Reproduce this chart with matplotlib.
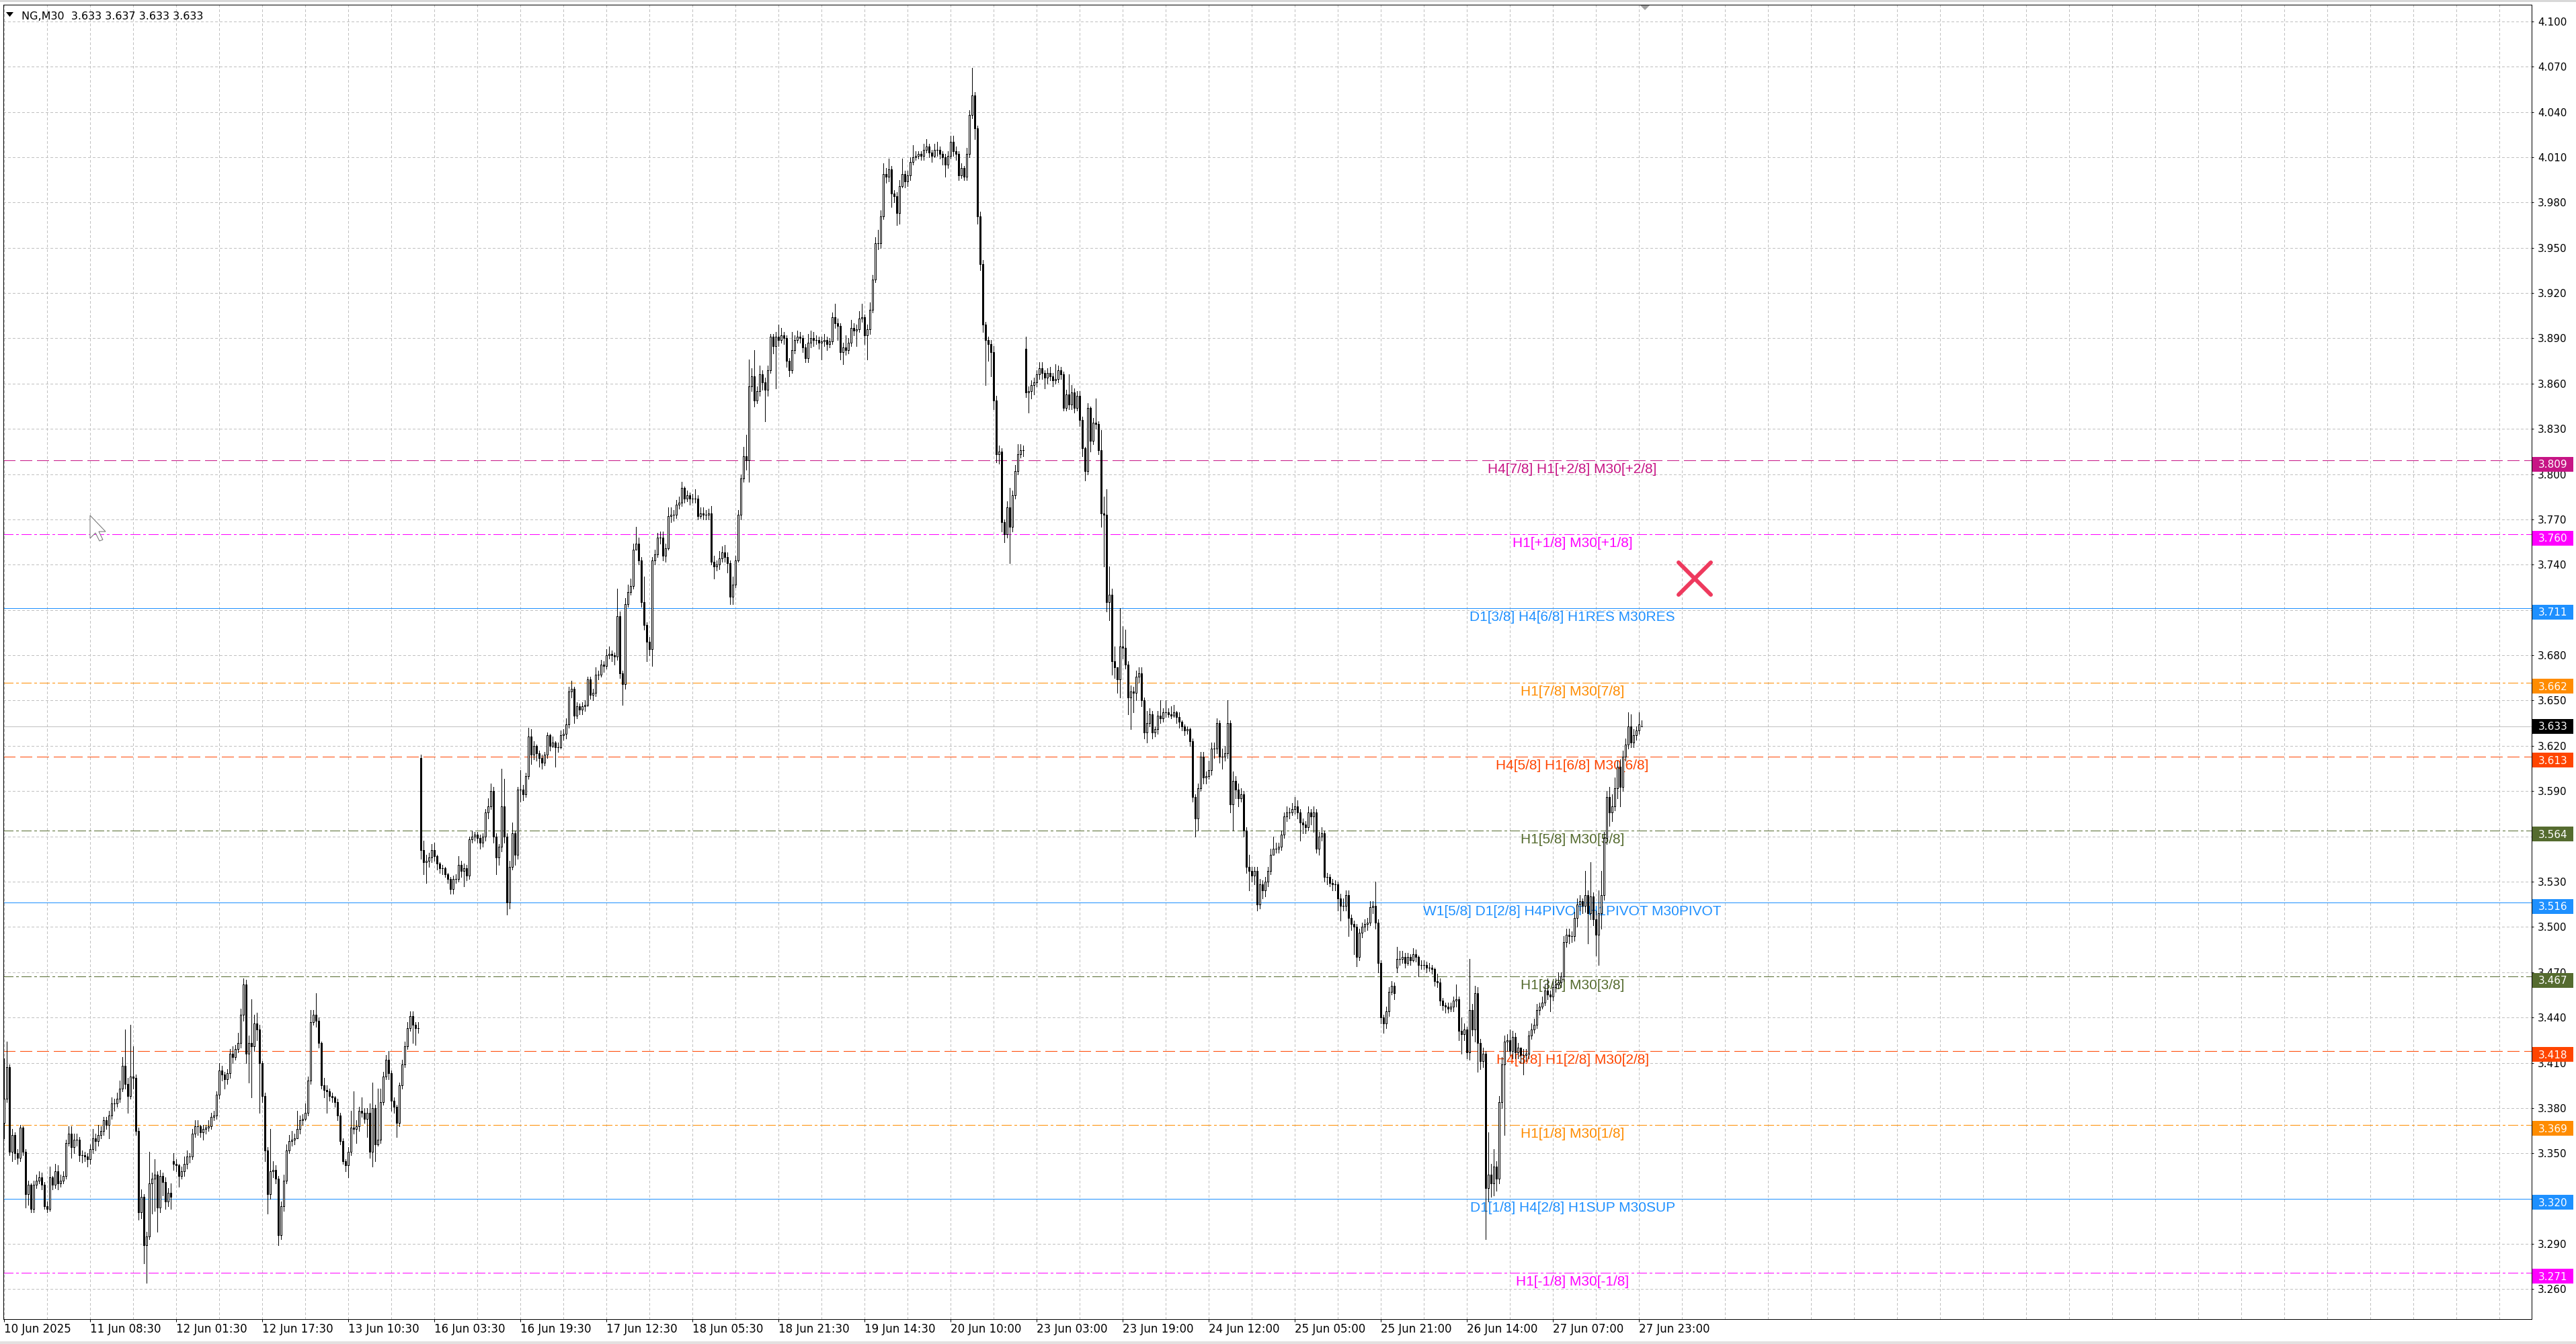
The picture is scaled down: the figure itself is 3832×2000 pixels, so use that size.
import numpy as np
import matplotlib
matplotlib.use("Agg")
import matplotlib.pyplot as plt
import matplotlib.transforms as mtransforms
from matplotlib.patches import Polygon, Rectangle
from matplotlib.markers import MarkerStyle

# ---------------- DATA (NG, M30) ----------------
# closes / highs / lows per bar, 5 blocks of consecutive M30 bars
close_a = [3.386, 3.407, 3.351, 3.362, 3.350, 3.347, 3.367, 3.351, 3.323, 3.329,
           3.313, 3.329, 3.332, 3.334, 3.329, 3.315, 3.313, 3.334, 3.329, 3.338,
           3.330, 3.332, 3.335, 3.357, 3.363, 3.354, 3.359, 3.359, 3.349, 3.349,
           3.348, 3.346, 3.353, 3.360, 3.358, 3.362, 3.365, 3.372, 3.369, 3.375,
           3.383, 3.383, 3.386, 3.393, 3.408, 3.396, 3.388, 3.401, 3.400, 3.365,
           3.311, 3.321, 3.289, 3.295, 3.330, 3.333, 3.336, 3.314, 3.335, 3.331,
           3.318, 3.324, 3.321, 3.343, 3.342, 3.335, 3.338, 3.343, 3.348, 3.348,
           3.363, 3.368, 3.368, 3.364, 3.366, 3.367, 3.368, 3.374, 3.375, 3.389,
           3.405, 3.402, 3.399, 3.403, 3.416, 3.414, 3.419, 3.423, 3.442, 3.462,
           3.416, 3.423, 3.421, 3.436, 3.432, 3.410, 3.388, 3.352, 3.323, 3.338,
           3.339, 3.333, 3.296, 3.315, 3.332, 3.352, 3.358, 3.359, 3.360, 3.366,
           3.372, 3.373, 3.377, 3.398, 3.437, 3.442, 3.438, 3.423, 3.395, 3.392,
           3.391, 3.388, 3.387, 3.384, 3.375, 3.358, 3.345, 3.342, 3.351, 3.367,
           3.366, 3.368, 3.378, 3.377, 3.373, 3.377, 3.351, 3.380, 3.356, 3.359,
           3.384, 3.401, 3.412, 3.403, 3.385, 3.381, 3.370, 3.395, 3.409, 3.421,
           3.433, 3.441, 3.435, 3.433, 3.433]
high_a = [3.413, 3.424, 3.409, 3.366, 3.364, 3.353, 3.369, 3.368, 3.353, 3.332,
          3.330, 3.332, 3.336, 3.338, 3.337, 3.331, 3.318, 3.341, 3.335, 3.343,
          3.342, 3.336, 3.338, 3.359, 3.368, 3.368, 3.363, 3.363, 3.361, 3.352,
          3.351, 3.350, 3.356, 3.366, 3.363, 3.369, 3.368, 3.374, 3.374, 3.378,
          3.387, 3.386, 3.390, 3.398, 3.414, 3.432, 3.400, 3.435, 3.421, 3.402,
          3.367, 3.326, 3.323, 3.298, 3.351, 3.337, 3.346, 3.338, 3.339, 3.337,
          3.334, 3.327, 3.330, 3.350, 3.346, 3.343, 3.341, 3.348, 3.352, 3.350,
          3.366, 3.372, 3.372, 3.369, 3.369, 3.369, 3.372, 3.377, 3.378, 3.391,
          3.410, 3.408, 3.404, 3.406, 3.419, 3.421, 3.422, 3.430, 3.446, 3.466,
          3.465, 3.428, 3.452, 3.442, 3.443, 3.435, 3.411, 3.390, 3.354, 3.366,
          3.345, 3.342, 3.335, 3.318, 3.336, 3.356, 3.362, 3.365, 3.363, 3.378,
          3.375, 3.376, 3.383, 3.401, 3.445, 3.445, 3.456, 3.440, 3.424, 3.400,
          3.395, 3.393, 3.390, 3.388, 3.386, 3.377, 3.360, 3.346, 3.354, 3.378,
          3.391, 3.372, 3.381, 3.387, 3.380, 3.380, 3.383, 3.397, 3.382, 3.393,
          3.393, 3.404, 3.415, 3.418, 3.405, 3.387, 3.382, 3.397, 3.412, 3.424,
          3.437, 3.444, 3.444, 3.437, 3.437]
low_a = [3.360, 3.384, 3.349, 3.345, 3.346, 3.343, 3.345, 3.349, 3.314, 3.316,
         3.311, 3.311, 3.327, 3.330, 3.326, 3.313, 3.311, 3.312, 3.326, 3.327,
         3.326, 3.328, 3.330, 3.333, 3.355, 3.347, 3.350, 3.355, 3.345, 3.344,
         3.345, 3.341, 3.343, 3.350, 3.352, 3.355, 3.360, 3.362, 3.366, 3.360,
         3.373, 3.378, 3.381, 3.384, 3.391, 3.393, 3.377, 3.386, 3.393, 3.362,
         3.306, 3.307, 3.277, 3.264, 3.293, 3.310, 3.312, 3.298, 3.311, 3.322,
         3.313, 3.315, 3.313, 3.339, 3.338, 3.328, 3.333, 3.335, 3.340, 3.344,
         3.346, 3.361, 3.362, 3.361, 3.359, 3.363, 3.365, 3.366, 3.372, 3.373,
         3.386, 3.398, 3.393, 3.396, 3.400, 3.410, 3.412, 3.417, 3.420, 3.438,
         3.410, 3.397, 3.387, 3.418, 3.425, 3.377, 3.384, 3.345, 3.310, 3.320,
         3.334, 3.330, 3.289, 3.293, 3.312, 3.330, 3.350, 3.355, 3.356, 3.360,
         3.363, 3.369, 3.372, 3.375, 3.396, 3.435, 3.434, 3.420, 3.393, 3.387,
         3.377, 3.385, 3.384, 3.381, 3.372, 3.356, 3.343, 3.338, 3.334, 3.349,
         3.363, 3.357, 3.365, 3.374, 3.370, 3.361, 3.347, 3.341, 3.345, 3.355,
         3.357, 3.382, 3.399, 3.399, 3.378, 3.377, 3.361, 3.368, 3.393, 3.407,
         3.419, 3.431, 3.423, 3.422, 3.430]

close_b = [3.551, 3.543, 3.544, 3.546, 3.551, 3.547, 3.542, 3.539, 3.539, 3.535,
           3.532, 3.525, 3.532, 3.532, 3.541, 3.537, 3.539, 3.534, 3.558, 3.560,
           3.561, 3.559, 3.556, 3.560, 3.576, 3.580, 3.590, 3.560, 3.546, 3.553,
           3.580, 3.560, 3.516, 3.540, 3.562, 3.548, 3.591, 3.591, 3.588, 3.600,
           3.626, 3.614, 3.620, 3.615, 3.612, 3.609, 3.614, 3.627, 3.620, 3.622,
           3.619, 3.619, 3.627, 3.628, 3.634, 3.656, 3.658, 3.640, 3.646, 3.644,
           3.646, 3.647, 3.664, 3.654, 3.655, 3.667, 3.667, 3.674, 3.673, 3.680,
           3.681, 3.680, 3.679, 3.706, 3.668, 3.661, 3.714, 3.722, 3.726, 3.750,
           3.754, 3.743, 3.715, 3.700, 3.689, 3.684, 3.743, 3.747, 3.758, 3.758,
           3.746, 3.751, 3.772, 3.773, 3.773, 3.780, 3.781, 3.791, 3.784, 3.786,
           3.784, 3.784, 3.784, 3.772, 3.774, 3.773, 3.773, 3.774, 3.742, 3.739,
           3.740, 3.744, 3.748, 3.745, 3.741, 3.719, 3.727, 3.743, 3.773, 3.797,
           3.812]
high_b = [3.614, 3.557, 3.548, 3.549, 3.555, 3.556, 3.548, 3.543, 3.541, 3.540,
          3.536, 3.533, 3.534, 3.535, 3.547, 3.544, 3.542, 3.541, 3.560, 3.564,
          3.563, 3.563, 3.561, 3.562, 3.578, 3.585, 3.595, 3.593, 3.562, 3.555,
          3.605, 3.598, 3.562, 3.544, 3.569, 3.564, 3.593, 3.604, 3.594, 3.602,
          3.632, 3.631, 3.623, 3.621, 3.617, 3.614, 3.616, 3.629, 3.628, 3.626,
          3.623, 3.622, 3.630, 3.631, 3.638, 3.659, 3.663, 3.659, 3.649, 3.648,
          3.649, 3.650, 3.666, 3.666, 3.658, 3.672, 3.670, 3.677, 3.676, 3.684,
          3.686, 3.683, 3.682, 3.724, 3.709, 3.670, 3.718, 3.727, 3.731, 3.754,
          3.765, 3.758, 3.745, 3.732, 3.702, 3.692, 3.745, 3.750, 3.761, 3.762,
          3.762, 3.754, 3.778, 3.778, 3.776, 3.783, 3.785, 3.795, 3.792, 3.789,
          3.788, 3.787, 3.790, 3.786, 3.778, 3.778, 3.776, 3.777, 3.779, 3.746,
          3.743, 3.749, 3.752, 3.753, 3.748, 3.743, 3.732, 3.746, 3.776, 3.800,
          3.818]
low_b = [3.545, 3.535, 3.529, 3.540, 3.543, 3.544, 3.538, 3.536, 3.535, 3.533,
         3.529, 3.522, 3.522, 3.529, 3.530, 3.533, 3.527, 3.531, 3.532, 3.556,
         3.557, 3.556, 3.552, 3.553, 3.557, 3.572, 3.578, 3.556, 3.535, 3.541,
         3.550, 3.556, 3.508, 3.512, 3.538, 3.541, 3.545, 3.583, 3.584, 3.586,
         3.598, 3.608, 3.611, 3.610, 3.606, 3.605, 3.607, 3.612, 3.617, 3.619,
         3.606, 3.616, 3.618, 3.624, 3.625, 3.632, 3.652, 3.635, 3.638, 3.641,
         3.641, 3.643, 3.646, 3.651, 3.650, 3.653, 3.664, 3.666, 3.669, 3.671,
         3.678, 3.676, 3.674, 3.677, 3.665, 3.647, 3.658, 3.712, 3.720, 3.724,
         3.750, 3.740, 3.712, 3.697, 3.676, 3.680, 3.673, 3.740, 3.745, 3.754,
         3.743, 3.742, 3.750, 3.768, 3.769, 3.771, 3.777, 3.779, 3.781, 3.782,
         3.780, 3.781, 3.781, 3.770, 3.771, 3.770, 3.770, 3.770, 3.740, 3.731,
         3.736, 3.737, 3.742, 3.742, 3.735, 3.714, 3.714, 3.725, 3.742, 3.770,
         3.795]

close_c = [3.809, 3.858, 3.865, 3.849, 3.855, 3.866, 3.861, 3.856, 3.869, 3.891,
           3.885, 3.891, 3.889, 3.892, 3.890, 3.875, 3.869, 3.882, 3.889, 3.891,
           3.890, 3.884, 3.877, 3.887, 3.890, 3.889, 3.889, 3.887, 3.888, 3.889,
           3.886, 3.888, 3.904, 3.900, 3.898, 3.881, 3.884, 3.882, 3.887, 3.897,
           3.895, 3.896, 3.903, 3.904, 3.892, 3.896, 3.909, 3.929, 3.953, 3.953,
           3.971, 3.999, 3.997, 4.002, 3.986, 3.984, 3.973, 3.991, 3.999, 3.994,
           3.998, 4.007, 4.010, 4.011, 4.012, 4.011, 4.015, 4.017, 4.013, 4.011,
           4.015, 4.015, 4.012, 4.010, 4.005, 4.011, 4.020, 4.014, 4.012, 3.998,
           4.003, 3.997, 4.012, 4.038, 4.051, 4.029, 3.971, 3.939, 3.899, 3.889,
           3.886, 3.881, 3.849, 3.813]
high_c = [3.826, 3.876, 3.870, 3.882, 3.858, 3.872, 3.869, 3.864, 3.872, 3.893,
          3.893, 3.894, 3.899, 3.897, 3.894, 3.892, 3.877, 3.894, 3.892, 3.895,
          3.894, 3.892, 3.886, 3.893, 3.895, 3.894, 3.892, 3.891, 3.891, 3.893,
          3.891, 3.890, 3.907, 3.913, 3.903, 3.900, 3.887, 3.892, 3.890, 3.902,
          3.900, 3.899, 3.908, 3.913, 3.906, 3.899, 3.914, 3.932, 3.957, 3.962,
          3.975, 4.006, 4.003, 4.009, 4.004, 3.988, 3.987, 3.995, 4.009, 4.001,
          4.001, 4.010, 4.018, 4.014, 4.014, 4.014, 4.019, 4.022, 4.019, 4.015,
          4.019, 4.020, 4.017, 4.014, 4.012, 4.014, 4.024, 4.024, 4.017, 4.014,
          4.006, 4.004, 4.016, 4.041, 4.069, 4.053, 4.031, 3.974, 3.942, 3.901,
          3.891, 3.889, 3.885, 3.852]
low_c = [3.803, 3.795, 3.855, 3.845, 3.847, 3.852, 3.856, 3.835, 3.852, 3.867,
         3.880, 3.857, 3.885, 3.887, 3.886, 3.871, 3.865, 3.867, 3.880, 3.887,
         3.887, 3.881, 3.874, 3.874, 3.884, 3.885, 3.886, 3.883, 3.876, 3.885,
         3.882, 3.884, 3.886, 3.897, 3.889, 3.876, 3.873, 3.879, 3.880, 3.885,
         3.892, 3.885, 3.894, 3.901, 3.886, 3.876, 3.893, 3.907, 3.927, 3.949,
         3.950, 3.969, 3.993, 3.994, 3.977, 3.980, 3.965, 3.966, 3.990, 3.990,
         3.991, 3.995, 4.005, 4.008, 4.009, 4.008, 4.008, 4.013, 4.010, 4.007,
         4.010, 4.011, 4.009, 4.005, 3.997, 4.003, 4.009, 4.011, 4.008, 3.995,
         3.996, 3.995, 3.995, 4.010, 4.036, 4.022, 3.966, 3.935, 3.894, 3.859,
         3.875, 3.865, 3.843, 3.808]

close_d = [3.815, 3.768, 3.760, 3.778, 3.765, 3.786, 3.802, 3.813, 3.816, 3.816,
           3.854, 3.855, 3.859, 3.861, 3.866, 3.870, 3.867, 3.864, 3.867, 3.865,
           3.862, 3.863, 3.869, 3.866, 3.844, 3.853, 3.846, 3.854, 3.844, 3.852,
           3.836, 3.817, 3.802, 3.844, 3.822, 3.834, 3.833, 3.816, 3.774, 3.773,
           3.715, 3.720, 3.676, 3.672, 3.664, 3.686, 3.685, 3.674, 3.652, 3.656,
           3.655, 3.666, 3.668, 3.650, 3.629, 3.635, 3.641, 3.629, 3.631, 3.640,
           3.638, 3.642, 3.642, 3.641, 3.640, 3.642, 3.639, 3.636, 3.633, 3.630,
           3.631, 3.623, 3.586, 3.572, 3.592, 3.613, 3.599, 3.600, 3.604, 3.618,
           3.618, 3.635, 3.613, 3.613, 3.615, 3.635, 3.581, 3.597, 3.591, 3.585,
           3.588, 3.564]
high_d = [3.819, 3.817, 3.770, 3.782, 3.791, 3.789, 3.806, 3.820, 3.820, 3.819,
          3.891, 3.858, 3.862, 3.864, 3.869, 3.874, 3.874, 3.869, 3.870, 3.871,
          3.867, 3.873, 3.872, 3.871, 3.868, 3.856, 3.866, 3.859, 3.857, 3.855,
          3.855, 3.838, 3.818, 3.847, 3.845, 3.837, 3.850, 3.835, 3.829, 3.785,
          3.790, 3.739, 3.724, 3.686, 3.672, 3.711, 3.699, 3.697, 3.676, 3.660,
          3.659, 3.670, 3.672, 3.672, 3.652, 3.643, 3.645, 3.643, 3.633, 3.643,
          3.650, 3.645, 3.650, 3.645, 3.646, 3.647, 3.643, 3.642, 3.637, 3.634,
          3.633, 3.632, 3.625, 3.588, 3.595, 3.616, 3.616, 3.603, 3.610, 3.622,
          3.622, 3.638, 3.637, 3.618, 3.620, 3.650, 3.637, 3.603, 3.600, 3.595,
          3.592, 3.590]
low_d = [3.807, 3.762, 3.755, 3.758, 3.741, 3.762, 3.784, 3.800, 3.811, 3.812,
         3.851, 3.841, 3.850, 3.853, 3.858, 3.863, 3.863, 3.857, 3.860, 3.862,
         3.858, 3.860, 3.861, 3.863, 3.842, 3.842, 3.843, 3.843, 3.841, 3.842,
         3.832, 3.812, 3.796, 3.800, 3.815, 3.820, 3.830, 3.813, 3.765, 3.739,
         3.709, 3.703, 3.667, 3.665, 3.655, 3.652, 3.678, 3.671, 3.641, 3.631,
         3.642, 3.650, 3.662, 3.646, 3.625, 3.622, 3.633, 3.625, 3.626, 3.628,
         3.635, 3.636, 3.639, 3.639, 3.638, 3.639, 3.635, 3.632, 3.630, 3.627,
         3.628, 3.620, 3.583, 3.560, 3.564, 3.590, 3.595, 3.595, 3.598, 3.601,
         3.612, 3.615, 3.609, 3.605, 3.610, 3.612, 3.576, 3.564, 3.585, 3.580,
         3.583, 3.560]

close_e = [3.540, 3.537, 3.534, 3.537, 3.515, 3.528, 3.524, 3.530, 3.537, 3.548,
           3.552, 3.552, 3.553, 3.561, 3.573, 3.576, 3.576, 3.578, 3.580, 3.576,
           3.569, 3.568, 3.566, 3.576, 3.573, 3.576, 3.552, 3.560, 3.562, 3.533,
           3.533, 3.529, 3.528, 3.528, 3.519, 3.514, 3.514, 3.521, 3.506, 3.502,
           3.500, 3.480, 3.496, 3.500, 3.502, 3.503, 3.513, 3.514, 3.503, 3.476,
           3.440, 3.436, 3.444, 3.457, 3.461, 3.456, 3.479, 3.479, 3.480, 3.476,
           3.480, 3.478, 3.482, 3.480, 3.475, 3.475, 3.475, 3.473, 3.473, 3.472,
           3.464, 3.463, 3.451, 3.448, 3.447, 3.446, 3.447, 3.451, 3.452, 3.431,
           3.429, 3.432, 3.417, 3.445, 3.432, 3.456, 3.423, 3.411, 3.416, 3.327,
           3.336, 3.330, 3.341, 3.333, 3.384, 3.409, 3.424, 3.425, 3.418, 3.427,
           3.417, 3.420, 3.415, 3.415, 3.416, 3.428, 3.432, 3.435, 3.445, 3.447,
           3.450, 3.458, 3.455, 3.454, 3.460, 3.462, 3.463, 3.467, 3.490, 3.495,
           3.494, 3.494, 3.506, 3.515, 3.517, 3.514, 3.521, 3.509, 3.520, 3.505,
           3.495, 3.509, 3.521, 3.559, 3.586, 3.576, 3.580, 3.592, 3.606, 3.593,
           3.613, 3.621, 3.633, 3.622, 3.627, 3.630, 3.634, 3.633]
high_e = [3.566, 3.548, 3.540, 3.540, 3.540, 3.532, 3.531, 3.533, 3.540, 3.552,
          3.560, 3.556, 3.556, 3.564, 3.576, 3.580, 3.579, 3.582, 3.586, 3.584,
          3.578, 3.572, 3.570, 3.580, 3.578, 3.580, 3.578, 3.563, 3.566, 3.564,
          3.536, 3.535, 3.532, 3.531, 3.530, 3.522, 3.519, 3.524, 3.524, 3.508,
          3.504, 3.502, 3.499, 3.503, 3.505, 3.506, 3.517, 3.517, 3.530, 3.505,
          3.478, 3.442, 3.447, 3.460, 3.464, 3.463, 3.487, 3.484, 3.484, 3.483,
          3.483, 3.482, 3.486, 3.485, 3.481, 3.478, 3.478, 3.477, 3.476, 3.475,
          3.473, 3.469, 3.466, 3.453, 3.450, 3.450, 3.450, 3.454, 3.462, 3.454,
          3.440, 3.436, 3.434, 3.479, 3.449, 3.461, 3.460, 3.426, 3.420, 3.418,
          3.364, 3.343, 3.353, 3.345, 3.388, 3.414, 3.428, 3.429, 3.432, 3.431,
          3.430, 3.423, 3.420, 3.419, 3.419, 3.431, 3.436, 3.439, 3.449, 3.450,
          3.454, 3.462, 3.466, 3.458, 3.464, 3.466, 3.470, 3.470, 3.494, 3.499,
          3.499, 3.497, 3.510, 3.519, 3.521, 3.519, 3.537, 3.524, 3.543, 3.523,
          3.511, 3.524, 3.537, 3.563, 3.590, 3.593, 3.588, 3.599, 3.610, 3.611,
          3.617, 3.625, 3.642, 3.641, 3.631, 3.633, 3.642, 3.637]
low_e = [3.536, 3.524, 3.530, 3.528, 3.511, 3.512, 3.519, 3.520, 3.527, 3.535,
         3.548, 3.549, 3.549, 3.551, 3.559, 3.570, 3.572, 3.574, 3.575, 3.572,
         3.557, 3.562, 3.562, 3.564, 3.568, 3.563, 3.549, 3.548, 3.557, 3.530,
         3.528, 3.527, 3.524, 3.524, 3.511, 3.504, 3.511, 3.511, 3.494, 3.498,
         3.482, 3.474, 3.478, 3.493, 3.497, 3.498, 3.501, 3.509, 3.499, 3.470,
         3.436, 3.430, 3.433, 3.441, 3.455, 3.452, 3.470, 3.475, 3.476, 3.473,
         3.475, 3.475, 3.477, 3.477, 3.467, 3.472, 3.472, 3.470, 3.471, 3.469,
         3.461, 3.460, 3.448, 3.445, 3.443, 3.443, 3.444, 3.444, 3.447, 3.425,
         3.416, 3.425, 3.413, 3.412, 3.428, 3.424, 3.404, 3.406, 3.407, 3.293,
         3.318, 3.321, 3.322, 3.325, 3.330, 3.380, 3.362, 3.418, 3.415, 3.413,
         3.413, 3.413, 3.410, 3.402, 3.411, 3.413, 3.426, 3.430, 3.433, 3.442,
         3.446, 3.448, 3.452, 3.444, 3.451, 3.457, 3.459, 3.460, 3.464, 3.487,
         3.489, 3.490, 3.491, 3.500, 3.511, 3.509, 3.510, 3.489, 3.505, 3.501,
         3.481, 3.475, 3.499, 3.518, 3.555, 3.567, 3.570, 3.577, 3.585, 3.580,
         3.590, 3.610, 3.618, 3.619, 3.619, 3.624, 3.628, 3.633]

# opens equal the previous close except at these session / weekend gaps
gap_bars = [0, 63, 155, 380, 518, 609]
gap_opens = [3.370, 3.345, 3.612, 3.883, 3.473, 3.633]

time_labels = ["10 Jun 2025", "11 Jun 08:30", "12 Jun 01:30", "12 Jun 17:30",
               "13 Jun 10:30", "16 Jun 03:30", "16 Jun 19:30", "17 Jun 12:30",
               "18 Jun 05:30", "18 Jun 21:30", "19 Jun 14:30", "20 Jun 10:00",
               "23 Jun 03:00", "23 Jun 19:00", "24 Jun 12:00", "25 Jun 05:00",
               "25 Jun 21:00", "26 Jun 14:00", "27 Jun 07:00", "27 Jun 23:00"]
bars_per_label = 32

level_prices = [3.809, 3.760, 3.711, 3.662, 3.613, 3.564, 3.516, 3.467,
                3.418, 3.369, 3.320, 3.271]
level_texts = ["H4[7/8] H1[+2/8] M30[+2/8]", "H1[+1/8] M30[+1/8]",
               "D1[3/8] H4[6/8] H1RES M30RES", "H1[7/8] M30[7/8]",
               "H4[5/8] H1[6/8] M30[6/8]", "H1[5/8] M30[5/8]",
               "W1[5/8] D1[2/8] H4PIVOT H1PIVOT M30PIVOT", "H1[3/8] M30[3/8]",
               "H4[3/8] H1[2/8] M30[2/8]", "H1[1/8] M30[1/8]",
               "D1[1/8] H4[2/8] H1SUP M30SUP", "H1[-1/8] M30[-1/8]"]
level_colors = ["#C71585", "#FF00FF", "#1E90FF", "#FF8C00", "#FF4500", "#556B2F",
                "#1E90FF", "#556B2F", "#FF4500", "#FF8C00", "#1E90FF", "#FF00FF"]
level_kinds = ["dash", "dashdot", "solid", "dashdot", "dash", "dashdot",
               "solid", "dashdot", "dash", "dashdot", "solid", "dashdot"]

current_price = 3.633
title_text = "NG,M30  3.633 3.637 3.633 3.633"
cross_bar, cross_price = 628.75, 3.731

# ---------------- FIGURE ----------------
W, H, DPI = 3832, 2000, 100
fig = plt.figure(figsize=(W / DPI, H / DPI), dpi=DPI)
fig.patch.set_facecolor("white")
AX_L, AX_R, AX_T, AX_B = 5, 3766, 7, 1963
ax = fig.add_axes([AX_L / W, 1 - AX_B / H, (AX_R - AX_L) / W, (AX_B - AX_T) / H])
ax.set_facecolor("white")
PX = 72.0 / DPI  # one pixel in points

closes = np.array(close_a + close_b + close_c + close_d + close_e)
highs = np.array(high_a + high_b + high_c + high_d + high_e)
lows = np.array(low_a + low_b + low_c + low_d + low_e)
n = min(len(closes), len(highs), len(lows))
closes, highs, lows = closes[:n], highs[:n], lows[:n]
opens = np.r_[closes[0], closes[:-1]]
for b, o in zip(gap_bars, gap_opens):
    if b < n:
        opens[b] = o
x = np.arange(n)

YMIN, YMAX = 3.24015, 4.11104
ax.set_xlim(-0.25, 940)
ax.set_ylim(YMIN, YMAX)
dpp = (YMAX - YMIN) / (AX_B - AX_T)      # price units per pixel
ax_w_px = AX_R - AX_L

# grid
yt = np.round(np.arange(3.260, 4.1005, 0.030), 3)
ax.set_yticks(yt)
ax.set_yticklabels([f"{v:.3f}" for v in yt])
major_x = [bars_per_label * i for i in range(len(time_labels))]
minor_x = [k for k in range(0, 941, 16) if k not in major_x]
ax.set_xticks(major_x)
ax.set_xticklabels(time_labels)
ax.set_xticks(minor_x, minor=True)
grid_kw = dict(color="#c0c0c0", linewidth=PX, linestyle=(0, (4, 3)), antialiased=False)
ax.grid(True, which="both", axis="x", **grid_kw)
ax.grid(True, which="major", axis="y", **grid_kw)
ax.set_axisbelow(True)

# tick styling
ax.yaxis.tick_right()
ax.tick_params(axis="y", which="major", length=3 * PX, width=PX, pad=4.5,
               labelsize=11, colors="black")
ax.tick_params(axis="x", which="major", length=4 * PX, width=PX, pad=1.5,
               labelsize=12, colors="black")
ax.tick_params(axis="x", which="minor", length=0)
for lbl in ax.get_xticklabels():
    lbl.set_horizontalalignment("left")
for sp in ax.spines.values():
    sp.set_color("black")
    sp.set_linewidth(PX)
    sp.set_antialiased(False)

# level lines
styles = {"dash": (0, (18, 8)), "dashdot": (0, (15, 5, 3, 5)), "solid": "-"}
for p, t, col, k in zip(level_prices, level_texts, level_colors, level_kinds):
    ax.axhline(p, color=col, linewidth=PX, linestyle=styles[k], zorder=1.6,
               antialiased=False)
    ax.annotate(t, xy=(0.6206, p), xycoords=("axes fraction", "data"),
                xytext=(0, -19), textcoords="offset pixels", ha="center",
                va="baseline", color=col, fontsize=15, family="Liberation Sans",
                zorder=2, annotation_clip=False)
ax.axhline(current_price, color="#c0c0c0", linewidth=PX, zorder=1.6, antialiased=False)

# price tags on the axis
ytrans = ax.get_yaxis_transform()
tag_prices = level_prices + [current_price]
tag_colors = level_colors + ["#000000"]
tag_shift = [5.5] * len(level_prices) + [0.0]   # box centre below the line, px
for p, col, s in zip(tag_prices, tag_colors, tag_shift):
    ax.add_patch(Rectangle((1 + 1.0 / ax_w_px, p - (s + 11) * dpp), 61.0 / ax_w_px,
                           22 * dpp, transform=ytrans, fc=col, ec="none",
                           clip_on=False, zorder=9))
    ax.annotate(f"{p:.3f}", xy=(1, p), xycoords=("axes fraction", "data"),
                xytext=(10, -(s + 5.5)), textcoords="offset pixels", ha="left",
                va="baseline", color="white", fontsize=11, zorder=10,
                annotation_clip=False)

# candles
lo = np.minimum(lows, np.minimum(opens, closes))
hi = np.maximum(highs, np.maximum(opens, closes))
ax.vlines(x, lo, hi, color="black", linewidth=PX, zorder=4, antialiased=False)
up = closes >= opens
ax.bar(x, np.abs(closes - opens), bottom=np.minimum(opens, closes), width=0.62,
       color=np.where(up, "white", "black"), edgecolor="black", linewidth=PX,
       zorder=5, antialiased=False)

# red cross object
ax.plot([cross_bar], [cross_price], linestyle="none",
        marker=MarkerStyle("x", capstyle="round"), markersize=34,
        markeredgewidth=6 * PX, color="#EE3A5E", zorder=6)

# title
ax.annotate(title_text, xy=(0, 1), xycoords="axes fraction", xytext=(27, -22),
            textcoords="offset pixels", ha="left", va="baseline", fontsize=11.5,
            color="black", zorder=10)

# pixel-based decorations relative to axes top-left
tl = fig.dpi_scale_trans + mtransforms.ScaledTranslation(0, 1, ax.transAxes)
def px_pts(pts):
    return [(a / DPI, b / DPI) for a, b in pts]
ax.add_patch(Polygon(px_pts([(4, -11), (15, -11), (9.5, -18)]), closed=True,
                     transform=tl, fc="black", ec="none", clip_on=False, zorder=10))
# mouse cursor
cur = [(0, 0), (0, -34), (8, -26), (14, -38), (19, -36), (13, -24), (23, -24)]
ax.add_patch(Polygon(px_pts([(129 + a, -760 + b) for a, b in cur]), closed=True,
                     transform=tl, fc="white", ec="#707070", lw=PX, zorder=10))
# chart shift marker
ax.add_patch(Polygon(px_pts([(2435, -1), (2449, -1), (2442, -8)]), closed=True,
                     transform=tl, fc="#a0a0a0", ec="none", clip_on=False, zorder=10))

# window borders
fig.patches.append(Rectangle((0, 1 - 3 / H), 1, 3 / H, transform=fig.transFigure,
                             fc="#d8d8d8", ec="none"))
fig.patches.append(Rectangle((0, 0), 1, 4 / H, transform=fig.transFigure,
                             fc="#e4e0e0", ec="none"))

fig.savefig("out.png", dpi=DPI, facecolor="white")
